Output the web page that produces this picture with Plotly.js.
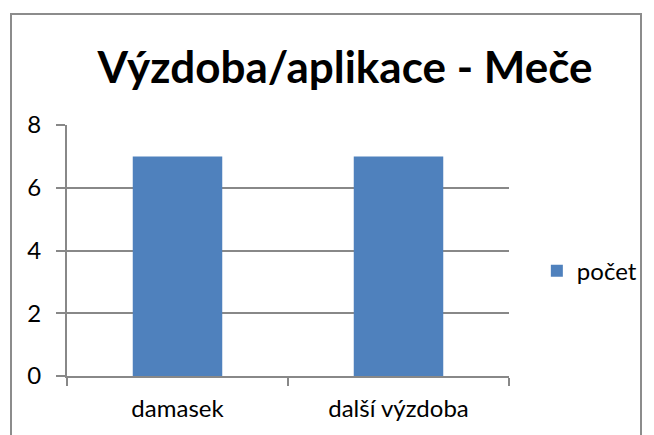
<!DOCTYPE html>
<html><head><meta charset="utf-8">
<script src="https://cdn.plot.ly/plotly-3.0.1.min.js"></script>
<style>
body{margin:0;padding:0;background:#fff;}
#frame{position:absolute;left:10px;top:13px;width:632px;height:440px;border:2px solid #8c8c8c;box-sizing:border-box;pointer-events:none;z-index:5;}
#chart{position:absolute;left:0;top:0;width:654px;height:435px;}
</style></head>
<body>
<div id="chart"></div>
<div id="frame"></div>
<script>
const categories = ["damasek", "další výzdoba"];
const pocet = [7, 7];
const seriesName = "počet";
const yTicks = [0, 2, 4, 6, 8];

const font = "Lato, 'Open Sans', sans-serif";
Plotly.newPlot('chart', [{
  type: 'bar', x: categories, y: pocet, name: seriesName,
  marker: {color: '#4F81BD'}, showlegend: true
}], {
  width: 654, height: 435,
  margin: {l: 67, r: 143, t: 125, b: 59},
  paper_bgcolor: '#fff', plot_bgcolor: '#fff',
  title: {text: '<b>Výzdoba/aplikace - Meče</b>', font: {family: font, size: 44, color: '#000'}, x: 345/654, xanchor: 'center', y: 0.845, yanchor: 'middle'},
  bargap: 0.595,
  xaxis: {type: 'category', tickson: 'boundaries', ticks: 'outside', ticklen: 8, tickcolor: '#888888', tickwidth: 2,
    showline: true, linecolor: '#888888', linewidth: 2, showgrid: false, ticklabelstandoff: 10,
    tickfont: {family: font, size: 24, color: '#000'}},
  yaxis: {range: [0, 8], tickvals: yTicks, ticks: 'outside', ticklen: 9, tickcolor: '#888888', tickwidth: 2,
    showline: true, linecolor: '#888888', linewidth: 2, showgrid: true, gridcolor: '#888888', gridwidth: 2,
    zeroline: false, ticklabelstandoff: 10, tickfont: {family: font, size: 24, color: '#000'}},
  showlegend: true,
  legend: {x: 1.063, y: 0.418, xanchor: 'left', yanchor: 'middle', font: {family: font, size: 24, color: '#000'}, bgcolor: 'rgba(0,0,0,0)'}
}, {displayModeBar: false, staticPlot: true});
</script>
</body></html>
